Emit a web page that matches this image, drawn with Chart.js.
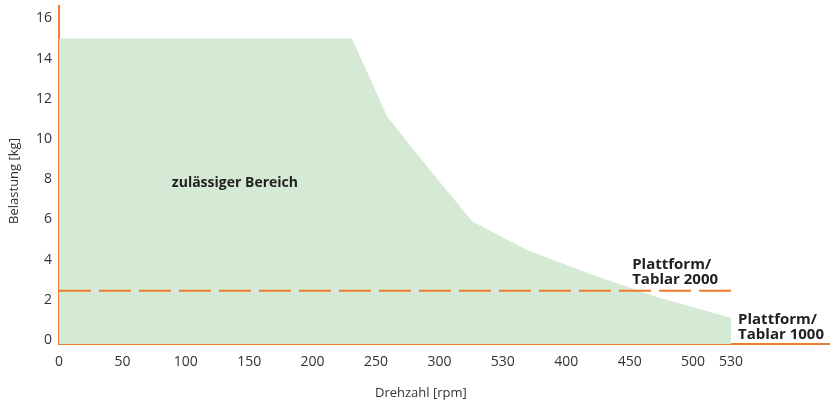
<!DOCTYPE html>
<html>
<head>
<meta charset="utf-8">
<script src="https://cdn.jsdelivr.net/npm/chart.js@4"></script>
<style>
  html, body { margin: 0; padding: 0; background: #ffffff; }
  #wrap { width: 830px; height: 400px; position: relative; }
</style>
</head>
<body>
<div id="wrap"><canvas id="c"></canvas></div>
<script>
// ---- data ----
const areaX = [0, 231, 259, 292, 326, 369, 421, 474, 530];
const areaY = [15, 15, 11.1, 8.5, 5.9, 4.48, 3.23, 2.09, 1.1];
const limitX = [0, 530];
const limitY = [2.45, 2.45];
const xTickValues = [0, 50, 100, 150, 200, 250, 300, 350, 400, 450, 500, 530];
const xTickLabels = ['0', '50', '100', '150', '200', '250', '300', '530', '400', '450', '500', '530'];
const yTickValues = [0, 2, 4, 6, 8, 10, 12, 14, 16];
const xTitle = 'Drehzahl [rpm]';
const yTitle = 'Belastung [kg]';
const areaLabel = 'zulässiger Bereich';
const label2000 = ['Plattform/', 'Tablar 2000'];
const label1000 = ['Plattform/', 'Tablar 1000'];

const ORANGE = '#ee7d2e';
const GREEN = '#d5ead5';
const TEXT = '#333333';
const FONT = "'Open Sans', sans-serif";

const textPlugin = {
  id: 'texts',
  afterDraw(chart) {
    const ctx = chart.ctx;
    const xs = chart.scales.x, ys = chart.scales.y;
    ctx.save();
    ctx.fillStyle = '#222222';
    ctx.textBaseline = 'middle';
    ctx.textAlign = 'left';
    ctx.font = "bold 14px " + FONT;
    ctx.fillText(areaLabel, xs.getPixelForValue(89), ys.getPixelForValue(7.8));
    ctx.font = "bold 15px " + FONT;
    ctx.fillText(label2000[0], xs.getPixelForValue(452), ys.getPixelForValue(3.73));
    ctx.fillText(label2000[1], xs.getPixelForValue(452), ys.getPixelForValue(2.99));
    ctx.fillText(label1000[0], xs.getPixelForValue(535.5), ys.getPixelForValue(1.0));
    ctx.fillText(label1000[1], xs.getPixelForValue(535.5), ys.getPixelForValue(0.25));
    // axis titles
    ctx.fillStyle = TEXT;
    ctx.font = "13px " + FONT;
    ctx.fillText(xTitle, 375, 393);
    ctx.translate(14, 181);
    ctx.rotate(-Math.PI / 2);
    ctx.textAlign = 'center';
    ctx.fillText(yTitle, 0, 0);
    ctx.restore();
  }
};

new Chart(document.getElementById('c'), {
  type: 'line',
  data: {
    datasets: [
      {
        data: limitX.map((x, i) => ({ x: x, y: limitY[i] })),
        borderColor: ORANGE,
        borderWidth: 2,
        borderDash: [32, 8],
        pointRadius: 0,
        fill: false,
        order: 0
      },
      {
        data: areaX.map((x, i) => ({ x: x, y: areaY[i] })),
        borderColor: 'rgba(0,0,0,0)',
        borderWidth: 0,
        backgroundColor: GREEN,
        pointRadius: 0,
        tension: 0,
        fill: 'start',
        order: 1
      }
    ]
  },
  options: {
    responsive: true,
    maintainAspectRatio: false,
    animation: false,
    layout: { padding: { top: 6, right: 0, left: 0, bottom: 0 } },
    plugins: { legend: { display: false }, tooltip: { enabled: false } },
    scales: {
      x: {
        type: 'linear',
        min: 0,
        max: 608,
        grid: { display: false, drawTicks: false },
        border: { display: true, color: ORANGE, width: 2 },
        afterBuildTicks: s => { s.ticks = xTickValues.map(v => ({ value: v })); },
        afterFit: s => { s.height = 56; s.paddingLeft = 0; s.paddingRight = 0; },
        ticks: {
          autoSkip: false,
          maxRotation: 0,
          padding: 10,
          color: TEXT,
          font: { family: FONT, size: 14 },
          callback: (v, i) => xTickLabels[i]
        }
      },
      y: {
        type: 'linear',
        min: -0.2,
        max: 16.62,
        grid: { display: false, drawTicks: false },
        border: { display: true, color: ORANGE, width: 2 },
        afterBuildTicks: s => { s.ticks = yTickValues.map(v => ({ value: v })); },
        afterFit: s => { s.width = 59; s.paddingTop = 0; s.paddingBottom = 0; },
        ticks: {
          padding: 7,
          color: TEXT,
          font: { family: FONT, size: 14 },
          callback: v => String(v)
        }
      }
    }
  },
  plugins: [textPlugin]
});
</script>
</body>
</html>
